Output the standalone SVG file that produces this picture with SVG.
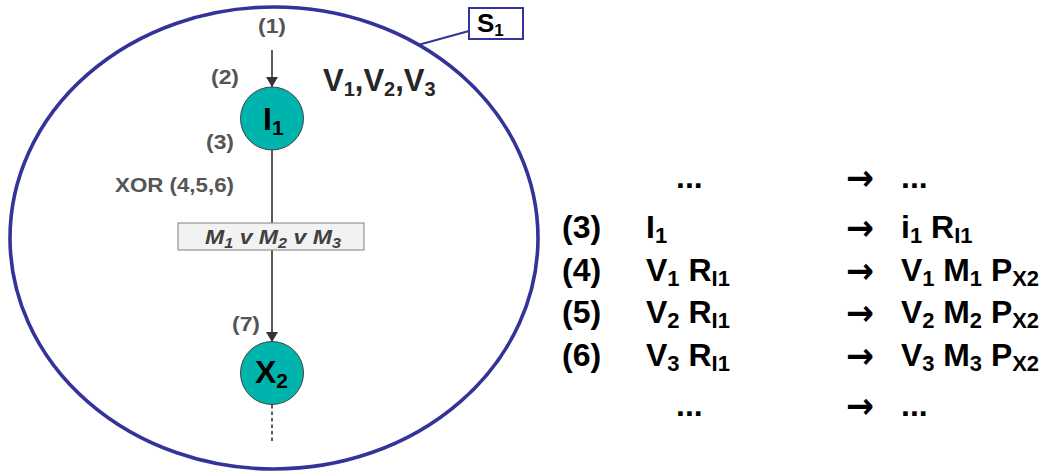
<svg xmlns="http://www.w3.org/2000/svg" width="1047" height="472" viewBox="0 0 1047 472">
  <defs>
    <marker id="arrow" viewBox="0 0 10 12" refX="10" refY="6" markerWidth="11" markerHeight="12" markerUnits="userSpaceOnUse" orient="auto">
      <path d="M0,0 L10,6 L0,12 z" fill="#333333"/>
    </marker>
    <style>
      .lbl { font-family: "Liberation Sans", Arial, sans-serif; font-weight: bold; fill: #555555; }
      .big { font-family: "Liberation Sans", Arial, sans-serif; font-weight: bold; fill: #000000; }
      .rt  { font-family: "Liberation Sans", Arial, sans-serif; font-weight: bold; fill: #000000; font-size: 32px; }
      .arr { font-family: "DejaVu Sans", sans-serif; font-weight: bold; fill: #000000; font-size: 36px; }
      .node { fill: #00b4ae; stroke: #404040; stroke-width: 1; }
      .edge { stroke: #333333; stroke-width: 1.6; fill: none; }
      .sys { stroke: #333399; fill: none; }
    </style>
  </defs>
  <rect width="1047" height="472" fill="#ffffff"/>

  <g id="system-S1">
    <ellipse class="sys" cx="274" cy="238" rx="264" ry="231" stroke-width="3.6"/>
    <line class="sys" x1="418" y1="45" x2="469" y2="31" stroke-width="2"/>
    <rect x="469" y="8" width="54" height="31" fill="#ffffff" stroke="#333399" stroke-width="2"/>
    <text class="big" x="477" y="32" font-size="26">S<tspan font-size="17" dy="4">1</tspan></text>
  </g>

  <g id="connectors">
    <line class="edge" x1="272" y1="50" x2="272" y2="87" marker-end="url(#arrow)"/>
    <line class="edge" x1="272" y1="150" x2="272" y2="342" marker-end="url(#arrow)"/>
    <line class="edge" x1="272" y1="405" x2="272" y2="443" stroke-dasharray="3.5,3" stroke-width="2.4"/>
  </g>

  <g id="labels-left">
    <text class="lbl" x="258" y="33" font-size="20" textLength="28" lengthAdjust="spacingAndGlyphs">(1)</text>
    <text class="lbl" x="211" y="84" font-size="20" textLength="28" lengthAdjust="spacingAndGlyphs">(2)</text>
    <text class="lbl" x="206" y="149" font-size="20" textLength="28" lengthAdjust="spacingAndGlyphs">(3)</text>
    <text class="lbl" x="115" y="192" font-size="21" textLength="119" lengthAdjust="spacingAndGlyphs">XOR (4,5,6)</text>
    <text class="lbl" x="232" y="331" font-size="20" textLength="28" lengthAdjust="spacingAndGlyphs">(7)</text>
    <text class="big" x="323" y="91" font-size="31" style="fill:#262626">V<tspan font-size="20" dy="5">1</tspan><tspan dy="-5">,V</tspan><tspan font-size="20" dy="5">2</tspan><tspan dy="-5">,V</tspan><tspan font-size="20" dy="5">3</tspan></text>
  </g>

  <g id="node-I1">
    <circle class="node" cx="272" cy="118.5" r="31.5"/>
    <text class="big" x="263" y="130" font-size="32">I<tspan font-size="21" dy="5">1</tspan></text>
  </g>

  <g id="guard-M">
    <rect x="178" y="223" width="186" height="27" fill="#f2f2f2" stroke="#808080" stroke-width="1"/>
    <text class="lbl" x="205" y="244" font-size="20" font-style="italic" style="fill:#404040" textLength="136" lengthAdjust="spacingAndGlyphs">M<tspan font-size="14" dy="4">1</tspan><tspan dy="-4"> v M</tspan><tspan font-size="14" dy="4">2</tspan><tspan dy="-4"> v M</tspan><tspan font-size="14" dy="4">3</tspan></text>
  </g>

  <g id="node-X2">
    <circle class="node" cx="272" cy="373" r="31.5"/>
    <text class="big" x="255" y="383" font-size="32">X<tspan font-size="21" dy="5">2</tspan></text>
  </g>

  <g id="rules">
    <text class="rt" x="676" y="188">...</text>
    <text class="arr" x="846" y="190" textLength="28" lengthAdjust="spacingAndGlyphs">→</text>
    <text class="rt" x="901" y="188">...</text>

    <text class="rt" x="562" y="238">(3)</text>
    <text class="rt" x="646" y="238">I<tspan font-size="22" dy="5">1</tspan></text>
    <text class="arr" x="846" y="240" textLength="28" lengthAdjust="spacingAndGlyphs">→</text>
    <text class="rt" x="901" y="238">i<tspan font-size="22" dy="5">1</tspan><tspan dy="-5"> R</tspan><tspan font-size="22" dy="5">I1</tspan></text>

    <text class="rt" x="562" y="281">(4)</text>
    <text class="rt" x="646" y="281">V<tspan font-size="22" dy="5">1</tspan><tspan dy="-5"> R</tspan><tspan font-size="22" dy="5">I1</tspan></text>
    <text class="arr" x="846" y="283" textLength="28" lengthAdjust="spacingAndGlyphs">→</text>
    <text class="rt" x="901" y="281" textLength="138" lengthAdjust="spacingAndGlyphs">V<tspan font-size="22" dy="5">1</tspan><tspan dy="-5"> M</tspan><tspan font-size="22" dy="5">1</tspan><tspan dy="-5"> P</tspan><tspan font-size="22" dy="5">X2</tspan></text>

    <text class="rt" x="562" y="323">(5)</text>
    <text class="rt" x="646" y="323">V<tspan font-size="22" dy="5">2</tspan><tspan dy="-5"> R</tspan><tspan font-size="22" dy="5">I1</tspan></text>
    <text class="arr" x="846" y="325" textLength="28" lengthAdjust="spacingAndGlyphs">→</text>
    <text class="rt" x="901" y="323" textLength="138" lengthAdjust="spacingAndGlyphs">V<tspan font-size="22" dy="5">2</tspan><tspan dy="-5"> M</tspan><tspan font-size="22" dy="5">2</tspan><tspan dy="-5"> P</tspan><tspan font-size="22" dy="5">X2</tspan></text>

    <text class="rt" x="562" y="366">(6)</text>
    <text class="rt" x="646" y="366">V<tspan font-size="22" dy="5">3</tspan><tspan dy="-5"> R</tspan><tspan font-size="22" dy="5">I1</tspan></text>
    <text class="arr" x="846" y="368" textLength="28" lengthAdjust="spacingAndGlyphs">→</text>
    <text class="rt" x="901" y="366" textLength="138" lengthAdjust="spacingAndGlyphs">V<tspan font-size="22" dy="5">3</tspan><tspan dy="-5"> M</tspan><tspan font-size="22" dy="5">3</tspan><tspan dy="-5"> P</tspan><tspan font-size="22" dy="5">X2</tspan></text>

    <text class="rt" x="676" y="416">...</text>
    <text class="arr" x="846" y="418" textLength="28" lengthAdjust="spacingAndGlyphs">→</text>
    <text class="rt" x="901" y="416">...</text>
  </g>
</svg>
